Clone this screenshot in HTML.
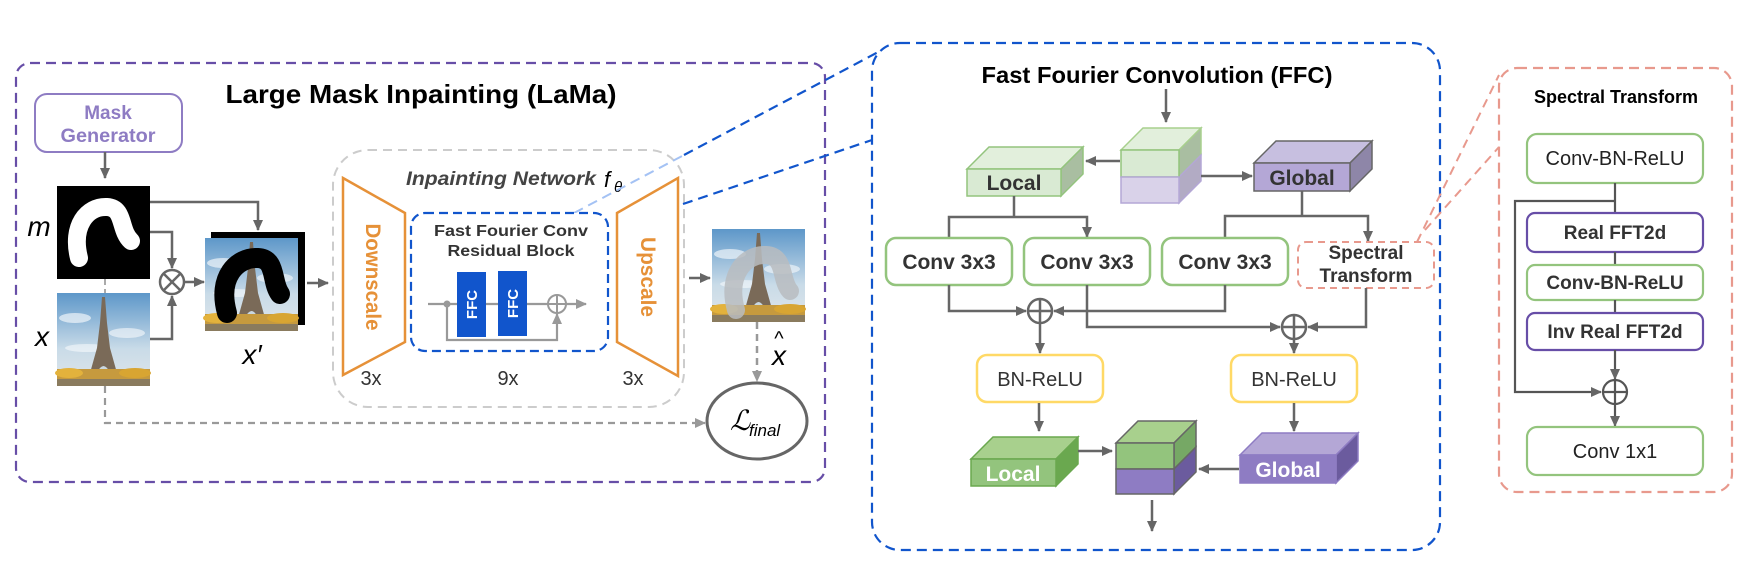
<!DOCTYPE html>
<html><head><meta charset="utf-8"><style>
html,body{margin:0;padding:0;background:#fff;}
svg{display:block;}
text{font-family:"Liberation Sans",sans-serif;}
</style></head><body>
<svg width="1753" height="563" viewBox="0 0 1753 563" xmlns="http://www.w3.org/2000/svg">
<defs>
<marker id="a" markerWidth="12" markerHeight="12" refX="10" refY="6" orient="auto" markerUnits="userSpaceOnUse"><path d="M0,1 L11,6 L0,11 z" fill="#666"/></marker>
<marker id="ag" markerWidth="12" markerHeight="12" refX="10" refY="6" orient="auto" markerUnits="userSpaceOnUse"><path d="M0,1 L11,6 L0,11 z" fill="#999"/></marker>
<linearGradient id="sky" x1="0" y1="0" x2="0" y2="1"><stop offset="0" stop-color="#5d97c9"/><stop offset="0.6" stop-color="#c9dbe8"/><stop offset="1" stop-color="#dfe6ea"/></linearGradient>
<clipPath id="pc"><rect x="0" y="0" width="93" height="93"/></clipPath>
<g id="photo">
<rect x="0" y="0" width="93" height="93" fill="url(#sky)"/>
<ellipse cx="18" cy="25" rx="16" ry="5" fill="#fff" opacity="0.6"/>
<ellipse cx="70" cy="40" rx="18" ry="5" fill="#fff" opacity="0.55"/>
<ellipse cx="30" cy="55" rx="22" ry="4" fill="#fff" opacity="0.5"/>
<path d="M45,4 L48,4 L50,30 L53,55 L60,80 L33,80 L40,55 L43,30 z" fill="#7a6a58"/>
<path d="M40,80 Q46.5,66 53,80 z" fill="#c9d7e0"/>
<rect x="0" y="76" width="93" height="17" fill="#c69a3e"/>
<ellipse cx="12" cy="80" rx="14" ry="5" fill="#e3b23c"/>
<ellipse cx="78" cy="80" rx="16" ry="5" fill="#d8a532"/>
<rect x="0" y="86" width="93" height="7" fill="#8a7b5e"/>
</g>
</defs>

<!-- LaMa box -->
<rect x="16" y="63" width="809" height="419" rx="14" fill="none" stroke="#674ea7" stroke-width="2.2" stroke-dasharray="10,6"/>
<text x="421" y="103" font-size="26" font-weight="bold" text-anchor="middle" textLength="391" lengthAdjust="spacingAndGlyphs" fill="#000">Large Mask Inpainting (LaMa)</text>

<rect x="35" y="94" width="147" height="58" rx="12" fill="#fff" stroke="#8e7cc3" stroke-width="2"/>
<text x="108" y="119" font-size="19" font-weight="bold" fill="#8e7cc3" text-anchor="middle">Mask</text>
<text x="108" y="142" font-size="19" font-weight="bold" fill="#8e7cc3" text-anchor="middle" textLength="95" lengthAdjust="spacingAndGlyphs">Generator</text>
<line x1="105" y1="152" x2="105" y2="178" stroke="#666" stroke-width="2.5" marker-end="url(#a)"/>

<!-- m image -->
<rect x="57" y="186" width="93" height="93" fill="#000"/>
<path d="M79,258 C71,226 87,206 107,207 C125,208 119,230 131,241" fill="none" stroke="#fff" stroke-width="18" stroke-linecap="round"/>
<text x="39" y="236" font-family="Liberation Serif,serif" font-style="italic" font-size="28" text-anchor="middle">m</text>
<!-- x image -->
<use href="#photo" x="57" y="293"/>
<text x="42" y="346" font-family="Liberation Serif,serif" font-style="italic" font-size="28" text-anchor="middle">x</text>

<line x1="105" y1="279" x2="105" y2="293" stroke="#aaa" stroke-width="2" stroke-dasharray="6,4"/>
<polyline points="150,202 258,202 258,230" fill="none" stroke="#666" stroke-width="2.5" marker-end="url(#a)"/>
<polyline points="150,232 172,232 172,268" fill="none" stroke="#666" stroke-width="2.5" marker-end="url(#a)"/>
<polyline points="150,339 172,339 172,296" fill="none" stroke="#666" stroke-width="2.5" marker-end="url(#a)"/>
<circle cx="172" cy="282" r="12" fill="#fff" stroke="#666" stroke-width="2.5"/>
<line x1="163.5" y1="273.5" x2="180.5" y2="290.5" stroke="#666" stroke-width="2.5"/>
<line x1="180.5" y1="273.5" x2="163.5" y2="290.5" stroke="#666" stroke-width="2.5"/>
<line x1="184" y1="282" x2="204" y2="282" stroke="#666" stroke-width="2.5" marker-end="url(#a)"/>

<!-- x' -->
<rect x="211" y="232" width="94" height="93" fill="#000"/>
<use href="#photo" x="205" y="238"/>
<path d="M227,313 C217,277 237,257 258,258 C277,259 271,282 280,294" fill="none" stroke="#000" stroke-width="20" stroke-linecap="round"/>
<text x="252" y="364" font-family="Liberation Serif,serif" font-style="italic" font-size="28" text-anchor="middle">x′</text>
<line x1="307" y1="283" x2="328" y2="283" stroke="#666" stroke-width="2.5" marker-end="url(#a)"/>

<!-- Inpainting network -->
<rect x="333" y="150" width="351" height="257" rx="35" fill="none" stroke="#ccc" stroke-width="2" stroke-dasharray="9,6"/>
<text x="501" y="185" font-size="19" font-style="italic" font-weight="bold" fill="#444" text-anchor="middle" textLength="190" lengthAdjust="spacingAndGlyphs">Inpainting Network</text>
<text x="604" y="187" font-family="Liberation Serif,serif" font-style="italic" font-size="22" fill="#000">f</text>
<text x="614" y="192" font-family="Liberation Serif,serif" font-style="italic" font-size="15" fill="#000">θ</text>

<polygon points="343,178 405,213 405,342 343,375" fill="#fff" stroke="#e69138" stroke-width="2.5"/>
<text transform="translate(366,277) rotate(90)" font-size="21" font-weight="bold" fill="#e69138" text-anchor="middle" textLength="107" lengthAdjust="spacingAndGlyphs">Downscale</text>
<polygon points="617,213 678,178 678,376 617,342" fill="#fff" stroke="#e69138" stroke-width="2.5"/>
<text transform="translate(641,277) rotate(90)" font-size="21" font-weight="bold" fill="#e69138" text-anchor="middle" textLength="80" lengthAdjust="spacingAndGlyphs">Upscale</text>

<!-- blue connectors -->
<line x1="684" y1="155" x2="882" y2="50" stroke="#1155cc" stroke-width="2.2" stroke-dasharray="10,6"/>
<line x1="574" y1="213" x2="684" y2="155" stroke="#a4c2f4" stroke-width="2" stroke-dasharray="10,6"/>
<line x1="683" y1="204" x2="872" y2="140" stroke="#1155cc" stroke-width="2.2" stroke-dasharray="10,6"/>

<rect x="411" y="213" width="197" height="138" rx="14" fill="#fff" stroke="#1155cc" stroke-width="2.2" stroke-dasharray="9,5"/>
<text x="511" y="236" font-size="16" font-weight="bold" fill="#333" text-anchor="middle" textLength="154" lengthAdjust="spacingAndGlyphs">Fast Fourier Conv</text>
<text x="511" y="256" font-size="16" font-weight="bold" fill="#333" text-anchor="middle" textLength="127" lengthAdjust="spacingAndGlyphs">Residual Block</text>
<line x1="428" y1="304" x2="586" y2="304" stroke="#999" stroke-width="2.2" marker-end="url(#ag)"/>
<circle cx="447" cy="304" r="3.5" fill="#999"/>
<polyline points="447,304 447,340 557,340 557,314" fill="none" stroke="#999" stroke-width="2.2" marker-end="url(#ag)"/>
<rect x="457" y="272" width="29" height="65" fill="#1155cc"/>
<rect x="498" y="271" width="29" height="65" fill="#1155cc"/>
<text transform="translate(477,304.5) rotate(-90)" font-size="15" font-weight="bold" fill="#fff" text-anchor="middle">FFC</text>
<text transform="translate(518,303.5) rotate(-90)" font-size="15" font-weight="bold" fill="#fff" text-anchor="middle">FFC</text>
<circle cx="557" cy="304" r="9" fill="#fff" stroke="#999" stroke-width="2"/>
<line x1="548" y1="304" x2="566" y2="304" stroke="#999" stroke-width="2"/>
<line x1="557" y1="295" x2="557" y2="313" stroke="#999" stroke-width="2"/>

<text x="371" y="385" font-size="20" fill="#333" text-anchor="middle">3x</text>
<text x="508" y="385" font-size="20" fill="#333" text-anchor="middle">9x</text>
<text x="633" y="385" font-size="20" fill="#333" text-anchor="middle">3x</text>

<line x1="689" y1="278" x2="710" y2="278" stroke="#666" stroke-width="2.5" marker-end="url(#a)"/>
<!-- output -->
<use href="#photo" x="712" y="229"/>
<path d="M736,310 C726,274 746,254 766,255 C786,256 780,280 790,291" fill="none" stroke="#b8bcbf" stroke-opacity="0.85" stroke-width="18" stroke-linecap="round"/>
<line x1="757" y1="322" x2="757" y2="381" stroke="#999" stroke-width="2.5" stroke-dasharray="7,5" marker-end="url(#ag)"/>
<text x="779" y="365" font-family="Liberation Serif,serif" font-style="italic" font-size="28" text-anchor="middle">x</text>
<text x="779" y="345" font-family="Liberation Serif,serif" font-size="20" text-anchor="middle">^</text>
<polyline points="105,386 105,423 705,423" fill="none" stroke="#999" stroke-width="2.2" stroke-dasharray="7,5" marker-end="url(#ag)"/>
<ellipse cx="757" cy="421" rx="50" ry="38" fill="#fff" stroke="#666" stroke-width="3"/>
<text x="730" y="430" font-family="Liberation Serif,serif" font-style="italic" font-size="28">ℒ</text>
<text x="749" y="436" font-family="Liberation Serif,serif" font-style="italic" font-size="17">final</text>

<!-- FFC big box -->
<rect x="872" y="43" width="568" height="507" rx="28" fill="none" stroke="#1155cc" stroke-width="2.2" stroke-dasharray="10,6"/>
<text x="1157" y="83" font-size="23" font-weight="bold" fill="#000" text-anchor="middle" textLength="351" lengthAdjust="spacingAndGlyphs">Fast Fourier Convolution (FFC)</text>
<line x1="1166" y1="89" x2="1166" y2="122" stroke="#666" stroke-width="2.5" marker-end="url(#a)"/>

<!-- input cube -->
<g stroke-width="1.5">
<polygon points="1121,150 1143,128 1201,128 1179,150" fill="#e2efdc" stroke="#a8d08d"/>
<polygon points="1179,150 1201,128 1201,155 1179,177" fill="#a9bea1" stroke="#a8d08d"/>
<polygon points="1179,177 1201,155 1201,181 1179,203" fill="#b2abc4" stroke="#b4a7d6"/>
<rect x="1121" y="150" width="58" height="27" fill="#d9ead3" stroke="#93c47d"/>
<rect x="1121" y="177" width="58" height="26" fill="#d9d2e9" stroke="#b4a7d6"/>
</g>
<line x1="1120" y1="161" x2="1086" y2="161" stroke="#666" stroke-width="2.5" marker-end="url(#a)"/>
<line x1="1201" y1="176" x2="1252" y2="176" stroke="#666" stroke-width="2.5" marker-end="url(#a)"/>

<!-- Local cube -->
<g stroke-width="1.5" stroke="#93c47d">
<polygon points="967,169 989,147 1083,147 1061,169" fill="#e2efdc"/>
<polygon points="1061,169 1083,147 1083,174 1061,196" fill="#a9bea1"/>
<rect x="967" y="169" width="94" height="27" fill="#d9ead3"/>
</g>
<text x="1014" y="190" font-size="21" font-weight="bold" fill="#333" text-anchor="middle">Local</text>

<!-- Global cube -->
<g stroke-width="1.5" stroke="#666">
<polygon points="1254,163 1276,141 1372,141 1350,163" fill="#c7bfe0"/>
<polygon points="1350,163 1372,141 1372,169 1350,191" fill="#8e86a8"/>
<rect x="1254" y="163" width="96" height="28" fill="#b4a7d6"/>
</g>
<text x="1302" y="185" font-size="21" font-weight="bold" fill="#333" text-anchor="middle">Global</text>

<!-- branches -->
<line x1="1014" y1="196" x2="1014" y2="217" stroke="#666" stroke-width="2.5"/>
<polyline points="949,237 949,217 1087,217 1087,237" fill="none" stroke="#666" stroke-width="2.5" marker-start="url(#a)" marker-end="url(#a)"/>
<line x1="1302" y1="191" x2="1302" y2="216" stroke="#666" stroke-width="2.5"/>
<polyline points="1225,237 1225,216 1368,216 1368,241" fill="none" stroke="#666" stroke-width="2.5" marker-start="url(#a)" marker-end="url(#a)"/>

<g fill="#fff" stroke="#93c47d" stroke-width="2.5">
<rect x="886" y="238" width="126" height="47" rx="10"/>
<rect x="1024" y="238" width="126" height="47" rx="10"/>
<rect x="1162" y="238" width="126" height="47" rx="10"/>
</g>
<g font-size="21" font-weight="bold" fill="#333" text-anchor="middle">
<text x="949" y="269">Conv 3x3</text>
<text x="1087" y="269">Conv 3x3</text>
<text x="1225" y="269">Conv 3x3</text>
</g>
<rect x="1298" y="242" width="136" height="46" rx="8" fill="#fff" stroke="#e8998d" stroke-width="2" stroke-dasharray="7,5"/>
<text x="1366" y="259" font-size="19" font-weight="bold" fill="#333" text-anchor="middle">Spectral</text>
<text x="1366" y="282" font-size="19" font-weight="bold" fill="#333" text-anchor="middle">Transform</text>

<polyline points="949,285 949,311 1026,311" fill="none" stroke="#666" stroke-width="2.5" marker-end="url(#a)"/>
<polyline points="1225,285 1225,311 1054,311" fill="none" stroke="#666" stroke-width="2.5" marker-end="url(#a)"/>
<polyline points="1087,285 1087,327 1280,327" fill="none" stroke="#666" stroke-width="2.5" marker-end="url(#a)"/>
<polyline points="1366,288 1366,327 1308,327" fill="none" stroke="#666" stroke-width="2.5" marker-end="url(#a)"/>
<g fill="#fff" stroke="#666" stroke-width="2.5">
<circle cx="1040" cy="311" r="12"/><circle cx="1294" cy="327" r="12"/>
</g>
<g stroke="#666" stroke-width="2.5">
<line x1="1028" y1="311" x2="1052" y2="311"/><line x1="1040" y1="299" x2="1040" y2="323"/>
<line x1="1282" y1="327" x2="1306" y2="327"/><line x1="1294" y1="315" x2="1294" y2="339"/>
</g>
<line x1="1040" y1="323" x2="1040" y2="353" stroke="#666" stroke-width="2.5" marker-end="url(#a)"/>
<line x1="1294" y1="339" x2="1294" y2="353" stroke="#666" stroke-width="2.5" marker-end="url(#a)"/>

<g fill="#fff" stroke="#ffd966" stroke-width="2.5">
<rect x="977" y="355" width="126" height="47" rx="10"/>
<rect x="1231" y="355" width="126" height="47" rx="10"/>
</g>
<text x="1040" y="386" font-size="20" fill="#333" text-anchor="middle">BN-ReLU</text>
<text x="1294" y="386" font-size="20" fill="#333" text-anchor="middle">BN-ReLU</text>
<line x1="1039" y1="403" x2="1039" y2="431" stroke="#666" stroke-width="2.5" marker-end="url(#a)"/>
<line x1="1294" y1="403" x2="1294" y2="431" stroke="#666" stroke-width="2.5" marker-end="url(#a)"/>

<!-- Local2 -->
<g stroke-width="1.5" stroke="#6aa84f">
<polygon points="971,459 993,437 1078,437 1056,459" fill="#a8d08d"/>
<polygon points="1056,459 1078,437 1078,464 1056,486" fill="#6aa84f"/>
<rect x="971" y="459" width="85" height="27" fill="#93c47d"/>
</g>
<text x="1013" y="481" font-size="21" font-weight="bold" fill="#fff" text-anchor="middle">Local</text>
<line x1="1078" y1="451" x2="1112" y2="451" stroke="#666" stroke-width="2.5" marker-end="url(#a)"/>

<!-- out cube -->
<g stroke-width="1.5" stroke="#666">
<polygon points="1116,443 1138,421 1196,421 1174,443" fill="#a8d08d"/>
<polygon points="1174,443 1196,421 1196,447 1174,469" fill="#76a865"/>
<polygon points="1174,469 1196,447 1196,472 1174,494" fill="#6b5b9e"/>
<rect x="1116" y="443" width="58" height="26" fill="#93c47d"/>
<rect x="1116" y="469" width="58" height="25" fill="#8e7cc3"/>
</g>
<line x1="1152" y1="500" x2="1152" y2="531" stroke="#666" stroke-width="2.5" marker-end="url(#a)"/>

<!-- Global2 -->
<g stroke-width="1.5" stroke="#8e7cc3">
<polygon points="1240,455 1262,433 1358,433 1336,455" fill="#b4a7d6"/>
<polygon points="1336,455 1358,433 1358,461 1336,483" fill="#6b5b9e"/>
<rect x="1240" y="455" width="96" height="28" fill="#8e7cc3"/>
</g>
<text x="1288" y="477" font-size="21" font-weight="bold" fill="#fff" text-anchor="middle">Global</text>
<line x1="1239" y1="469" x2="1199" y2="469" stroke="#666" stroke-width="2.5" marker-end="url(#a)"/>

<!-- Spectral panel -->
<line x1="1417" y1="242" x2="1499" y2="75" stroke="#e8998d" stroke-width="2" stroke-dasharray="9,6"/>
<line x1="1425" y1="230" x2="1499" y2="147" stroke="#e8998d" stroke-width="2" stroke-dasharray="9,6"/>
<rect x="1499" y="68" width="233" height="424" rx="18" fill="#fff" stroke="#e8998d" stroke-width="2.2" stroke-dasharray="10,6"/>
<text x="1616" y="103" font-size="18" font-weight="bold" fill="#000" text-anchor="middle">Spectral Transform</text>
<rect x="1527" y="134" width="176" height="49" rx="10" fill="#fff" stroke="#93c47d" stroke-width="2.2"/>
<text x="1615" y="165" font-size="20" fill="#222" text-anchor="middle">Conv-BN-ReLU</text>
<polyline points="1615,201 1515,201 1515,392 1601,392" fill="none" stroke="#555" stroke-width="2.2" marker-end="url(#a)"/>
<line x1="1615" y1="183" x2="1615" y2="212" stroke="#555" stroke-width="2.2"/>
<rect x="1527" y="213" width="176" height="39" rx="8" fill="#fff" stroke="#674ea7" stroke-width="2.2"/>
<text x="1615" y="239" font-size="19" font-weight="bold" fill="#333" text-anchor="middle">Real FFT2d</text>
<line x1="1615" y1="252" x2="1615" y2="265" stroke="#555" stroke-width="2.2"/>
<rect x="1527" y="265" width="176" height="35" rx="8" fill="#fff" stroke="#93c47d" stroke-width="2.2"/>
<text x="1615" y="289" font-size="19" font-weight="bold" fill="#333" text-anchor="middle">Conv-BN-ReLU</text>
<line x1="1615" y1="300" x2="1615" y2="313" stroke="#555" stroke-width="2.2"/>
<rect x="1527" y="313" width="176" height="37" rx="8" fill="#fff" stroke="#674ea7" stroke-width="2.2"/>
<text x="1615" y="338" font-size="19" font-weight="bold" fill="#333" text-anchor="middle">Inv Real FFT2d</text>
<line x1="1615" y1="350" x2="1615" y2="379" stroke="#555" stroke-width="2.2" marker-end="url(#a)"/>
<circle cx="1615" cy="392" r="12" fill="#fff" stroke="#555" stroke-width="2.2"/>
<line x1="1603" y1="392" x2="1627" y2="392" stroke="#555" stroke-width="2.2"/>
<line x1="1615" y1="380" x2="1615" y2="404" stroke="#555" stroke-width="2.2"/>
<line x1="1615" y1="404" x2="1615" y2="426" stroke="#555" stroke-width="2.2" marker-end="url(#a)"/>
<rect x="1527" y="427" width="176" height="48" rx="10" fill="#fff" stroke="#93c47d" stroke-width="2.2"/>
<text x="1615" y="458" font-size="20" fill="#222" text-anchor="middle">Conv 1x1</text>
</svg>
</body></html>
